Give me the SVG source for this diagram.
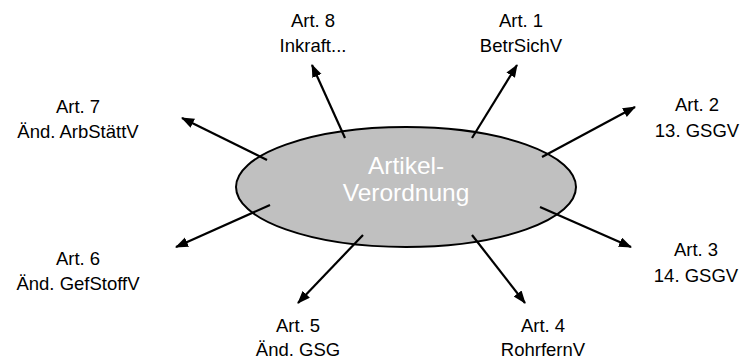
<svg xmlns="http://www.w3.org/2000/svg" width="745" height="361" viewBox="0 0 745 361">
<style>
text{font-family:"Liberation Sans",Arial,sans-serif;font-size:18.5px;fill:#000;text-anchor:middle}
.c{font-size:24.5px;fill:#fff}
.a{stroke:#000;stroke-width:2.2;fill:none;marker-end:url(#ah)}
</style>
<defs>
<marker id="ah" markerWidth="14" markerHeight="12" refX="12" refY="5" orient="auto" markerUnits="userSpaceOnUse">
<path d="M0,0 L13,5 L0,10 Z" fill="#000"/>
</marker>
</defs>
<rect width="745" height="361" fill="#fff"/>
<g id="center">
<ellipse cx="406" cy="187" rx="170" ry="60" fill="#c0c0c0" stroke="#000" stroke-width="2"/>
<text class="c" x="406" y="174">Artikel-</text>
<text class="c" x="406" y="201">Verordnung</text>
</g>
<g id="connectors">
<line class="a" x1="472" y1="138" x2="517" y2="65"/>
<line class="a" x1="542" y1="157" x2="635" y2="107"/>
<line class="a" x1="540" y1="207" x2="631" y2="247"/>
<line class="a" x1="472" y1="235" x2="525" y2="303"/>
<line class="a" x1="363" y1="235" x2="298" y2="303"/>
<line class="a" x1="270" y1="205" x2="176" y2="247"/>
<line class="a" x1="267" y1="160" x2="182" y2="118"/>
<line class="a" x1="345" y1="138" x2="312" y2="65"/>
</g>
<g id="art1"><text x="521" y="27">Art. 1</text><text x="521" y="52">BetrSichV</text></g>
<g id="art2"><text x="697" y="111">Art. 2</text><text x="697" y="137">13. GSGV</text></g>
<g id="art3"><text x="696" y="256">Art. 3</text><text x="696" y="282">14. GSGV</text></g>
<g id="art4"><text x="543" y="332">Art. 4</text><text x="543" y="356">RohrfernV</text></g>
<g id="art5"><text x="298" y="332">Art. 5</text><text x="298" y="356">Änd. GSG</text></g>
<g id="art6"><text x="78" y="265">Art. 6</text><text x="78" y="290">Änd. GefStoffV</text></g>
<g id="art7"><text x="78" y="113">Art. 7</text><text x="78" y="138">Änd. ArbStättV</text></g>
<g id="art8"><text x="313" y="27">Art. 8</text><text x="313" y="52">Inkraft...</text></g>
</svg>
